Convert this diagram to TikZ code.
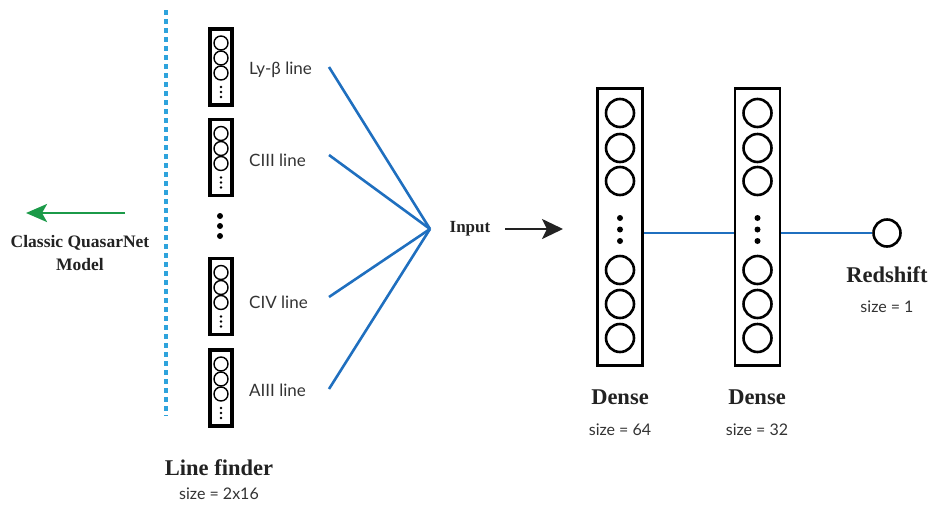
\documentclass[tikz,border=0pt]{standalone}
\usepackage{fontspec}
\setmainfont{Liberation Serif}
\newfontfamily\lightsans{Lato}
\usetikzlibrary{arrows.meta}
\definecolor{txt}{HTML}{222222}
\definecolor{lbl}{HTML}{333333}
\definecolor{linkblue}{HTML}{1F6FBF}
\definecolor{dashblue}{HTML}{2EA3DC}
\definecolor{arrgreen}{HTML}{1B9A48}
\tikzset{
  smallbox/.style={draw, line width=3.2pt, minimum width=22pt, minimum height=76pt, inner sep=0pt},
  bigbox/.style={draw, line width=2.8pt, minimum width=45pt, minimum height=277pt, inner sep=0pt},
  sneuron/.style={circle, draw, line width=1.4pt, minimum size=14pt, inner sep=0pt},
  bneuron/.style={circle, draw, line width=2.6pt, minimum size=28pt, inner sep=0pt},
  sdot/.style={circle, fill, minimum size=2.8pt, inner sep=0pt},
  bdot/.style={circle, fill, minimum size=6pt, inner sep=0pt},
  head/.style={font=\bfseries\fontsize{22.5}{26}\selectfont, text=txt, inner sep=0pt},
  headm/.style={font=\bfseries\fontsize{17.5}{23}\selectfont, text=txt, inner sep=0pt, align=center},
  sizelbl/.style={font=\lightsans\fontsize{16}{18}\selectfont, text=lbl, inner sep=0pt},
  linelbl/.style={font=\lightsans\fontsize{17}{19}\selectfont, text=lbl, inner sep=0pt},
  link/.style={draw=linkblue, line width=2.6pt},
}
\begin{document}
\begin{tikzpicture}[x=1pt, y=-1pt]
\useasboundingbox (0,0) rectangle (929,507);

% dashed separator
\coordinate (d1) at (166,10);
\coordinate (d2) at (166,416);
\draw[dashblue, line width=3.2pt, dash pattern=on 5pt off 4pt] (d1) -- (d2);

% green arrow
\coordinate (g1) at (125,213);
\coordinate (g2) at (26,213);
\draw[arrgreen, line width=2.8pt, -{Stealth[length=21pt, width=18pt, inset=5pt]}] (g1) -- (g2);
\node[headm] (classic) at (80,253) {Classic QuasarNet\\Model};

% small boxes
\foreach \i/\yc in {1/67, 2/157.5, 3/296.5, 4/388} {
  \node[smallbox] (sb\i) at (221,\yc) {};
  \node[sneuron] (sb\i n1) at (221,\yc-24) {};
  \node[sneuron] (sb\i n2) at (221,\yc-9) {};
  \node[sneuron] (sb\i n3) at (221,\yc+6) {};
  \node[sdot] (sb\i d1) at (221,\yc+20) {};
  \node[sdot] (sb\i d2) at (221,\yc+25) {};
  \node[sdot] (sb\i d3) at (221,\yc+30) {};
}
\node[bdot] (md1) at (220,216) {};
\node[bdot] (md2) at (220,226) {};
\node[bdot] (md3) at (220,236) {};

% line labels
\node[linelbl, anchor=west] (l1) at (249,70) {Ly-β line};
\node[linelbl, anchor=west] (l2) at (249,160) {CIII line};
\node[linelbl, anchor=west] (l3) at (249,302) {CIV line};
\node[linelbl, anchor=west] (l4) at (249,390) {AIII line};

\node[head] (lf) at (219,468) {Line finder};
\node[sizelbl] (lfs) at (219,494) {size = 2x16};

% connectors to input
\coordinate (hub) at (430,229);
\coordinate (c1) at (329,67);
\coordinate (c2) at (329,155);
\coordinate (c3) at (329,297);
\coordinate (c4) at (329,389);
\foreach \c in {c1,c2,c3,c4} { \draw[link] (\c) -- (hub); }

\node[font=\bfseries\fontsize{17}{20}\selectfont, text=txt, inner sep=0pt] (input) at (470,229) {Input};
\coordinate (a1) at (505,229);
\coordinate (a2) at (563,229);
\draw[txt, line width=2.6pt, -{Stealth[length=21pt, width=20pt, inset=5pt]}] (a1) -- (a2);

% dense layers
\foreach \i/\xc in {1/620, 2/757.5} {
  \node[bigbox] (bb\i) at (\xc,227) {};
  \node[bneuron] at (\xc,113) {};
  \node[bneuron] at (\xc,148) {};
  \node[bneuron] at (\xc,181) {};
  \node[bdot] at (\xc,218) {};
  \node[bdot] at (\xc,229.5) {};
  \node[bdot] at (\xc,241) {};
  \node[bneuron] at (\xc,270) {};
  \node[bneuron] at (\xc,304) {};
  \node[bneuron] at (\xc,338) {};
}
\node[bneuron, minimum size=27pt] (out) at (887,233) {};

\draw[link] (bb1.east |- 0,233) -- (bb2.west |- 0,233);
\draw[link] (bb2.east |- 0,233) -- (out.west);

\node[head] (dn1) at (620,397) {Dense};
\node[sizelbl] (dn1s) at (620,430) {size = 64};
\node[head] (dn2) at (757,397) {Dense};
\node[sizelbl] (dn2s) at (757,430) {size = 32};
\node[head] (rs) at (887,275) {Redshift};
\node[sizelbl] (rss) at (887,307) {size = 1};
\end{tikzpicture}
\end{document}
